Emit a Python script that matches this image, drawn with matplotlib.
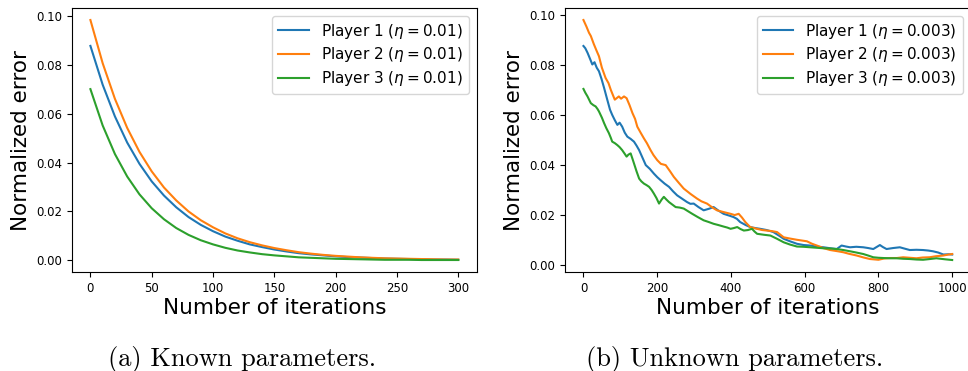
import matplotlib
matplotlib.use("Agg")
import matplotlib.pyplot as plt

# (a) known parameters, values read every 10 iterations
iters_a = list(range(0, 301, 10))
p1_known = [0.0878, 0.0719, 0.0589, 0.0482, 0.0395, 0.0323, 0.0265, 0.0217, 0.0177, 0.0145,
            0.0119, 0.0097, 0.0080, 0.0065, 0.0054, 0.0044, 0.0036, 0.0029, 0.0024, 0.0020,
            0.0016, 0.0013, 0.0011, 0.0009, 0.0007, 0.0006, 0.0005, 0.0004, 0.0003, 0.0003, 0.0002]
p2_known = [0.0984, 0.0807, 0.0661, 0.0542, 0.0444, 0.0364, 0.0298, 0.0245, 0.0200, 0.0164,
            0.0135, 0.0110, 0.0090, 0.0074, 0.0061, 0.0050, 0.0041, 0.0033, 0.0027, 0.0022,
            0.0018, 0.0015, 0.0012, 0.0010, 0.0008, 0.0007, 0.0006, 0.0005, 0.0004, 0.0003, 0.0003]
p3_known = [0.0701, 0.0552, 0.0435, 0.0343, 0.0270, 0.0213, 0.0168, 0.0132, 0.0104, 0.0082,
            0.0065, 0.0051, 0.0040, 0.0032, 0.0025, 0.0020, 0.0016, 0.0012, 0.0010, 0.0008,
            0.0006, 0.0005, 0.0004, 0.0003, 0.0002, 0.0002, 0.0002, 0.0001, 0.0001, 0.0001, 0.0001]

# (b) unknown parameters
p1_x = [0, 5, 11, 18, 24, 30, 36, 42, 49, 56, 64, 72, 78, 85, 92, 98, 105, 112, 119, 128,
        137, 144, 151, 160, 169, 180, 191, 200, 209, 220, 232, 243, 254, 268, 281, 290, 299,
        312, 326, 340, 353, 366, 380, 395, 407, 416, 425, 440, 452, 466, 479, 497, 515, 530,
        543, 560, 579, 597, 615, 633, 651, 670, 687, 700, 712, 723, 740, 759, 772, 786, 795,
        804, 812, 822, 840, 858, 870, 885, 903, 921, 935, 948, 962, 976, 990, 1000]
p1_y = [0.0877, 0.0868, 0.0850, 0.0825, 0.0803, 0.0812, 0.0790, 0.0776, 0.0745, 0.0709,
        0.0665, 0.0622, 0.0601, 0.0580, 0.0561, 0.0570, 0.0554, 0.0530, 0.0514, 0.0505,
        0.0494, 0.0478, 0.0460, 0.0430, 0.0400, 0.0385, 0.0366, 0.0352, 0.0340, 0.0326,
        0.0313, 0.0295, 0.0279, 0.0265, 0.0252, 0.0245, 0.0246, 0.0232, 0.0219, 0.0225,
        0.0232, 0.0218, 0.0205, 0.0198, 0.0192, 0.0185, 0.0172, 0.0160, 0.0152, 0.0148,
        0.0145, 0.0140, 0.0132, 0.0118, 0.0105, 0.0095, 0.0085, 0.0080, 0.0078, 0.0074,
        0.0071, 0.0067, 0.0064, 0.0078, 0.0074, 0.0071, 0.0073, 0.0071, 0.0068, 0.0064,
        0.0072, 0.0080, 0.0072, 0.0064, 0.0068, 0.0071, 0.0066, 0.0060, 0.0061, 0.0060,
        0.0058, 0.0055, 0.0050, 0.0042, 0.0043, 0.0042]

p2_x = [0, 8, 15, 20, 28, 35, 42, 50, 60, 68, 74, 80, 85, 90, 96, 102, 110, 117, 125, 133,
        140, 146, 155, 164, 172, 182, 190, 200, 210, 223, 235, 245, 258, 272, 290, 308, 320,
        335, 350, 362, 380, 399, 410, 421, 430, 439, 452, 470, 485, 497, 510, 525, 543, 560,
        579, 606, 620, 633, 650, 669, 690, 705, 720, 741, 760, 777, 800, 815, 831, 850, 867,
        885, 903, 920, 939, 955, 976, 990, 1000]
p2_y = [0.0981, 0.0955, 0.0930, 0.0917, 0.0885, 0.0860, 0.0836, 0.0790, 0.0749, 0.0728,
        0.0702, 0.0680, 0.0662, 0.0668, 0.0675, 0.0666, 0.0675, 0.0668, 0.0640, 0.0608,
        0.0585, 0.0554, 0.0530, 0.0507, 0.0488, 0.0460, 0.0440, 0.0420, 0.0405, 0.0400,
        0.0375, 0.0353, 0.0330, 0.0306, 0.0285, 0.0266, 0.0255, 0.0246, 0.0230, 0.0219,
        0.0212, 0.0205, 0.0200, 0.0205, 0.0190, 0.0172, 0.0152, 0.0145, 0.0140, 0.0138,
        0.0136, 0.0132, 0.0111, 0.0106, 0.0101, 0.0095, 0.0085, 0.0078, 0.0068, 0.0060,
        0.0055, 0.0051, 0.0045, 0.0038, 0.0030, 0.0024, 0.0021, 0.0026, 0.0028, 0.0028,
        0.0031, 0.0029, 0.0027, 0.0030, 0.0031, 0.0035, 0.0038, 0.0042, 0.0044]

p3_x = [0, 5, 11, 16, 20, 27, 33, 38, 42, 50, 56, 62, 69, 74, 78, 85, 92, 98, 105, 112,
        117, 122, 128, 133, 137, 144, 151, 157, 164, 171, 178, 185, 191, 198, 205, 212, 218,
        225, 232, 241, 250, 261, 272, 284, 295, 310, 326, 340, 353, 366, 380, 390, 399, 408,
        417, 426, 435, 446, 457, 464, 471, 490, 507, 525, 543, 560, 579, 597, 615, 633, 651,
        670, 687, 705, 723, 740, 759, 772, 786, 800, 813, 831, 849, 867, 885, 903, 921, 940,
        957, 980, 1000]
p3_y = [0.0705, 0.0690, 0.0675, 0.0660, 0.0648, 0.0640, 0.0635, 0.0625, 0.0615, 0.0590,
        0.0568, 0.0548, 0.0528, 0.0510, 0.0494, 0.0488, 0.0480, 0.0472, 0.0460, 0.0445,
        0.0434, 0.0442, 0.0447, 0.0425, 0.0407, 0.0375, 0.0346, 0.0335, 0.0326, 0.0320,
        0.0313, 0.0300, 0.0286, 0.0268, 0.0246, 0.0262, 0.0273, 0.0262, 0.0252, 0.0242,
        0.0232, 0.0230, 0.0226, 0.0215, 0.0205, 0.0192, 0.0179, 0.0172, 0.0165, 0.0160,
        0.0154, 0.0150, 0.0145, 0.0148, 0.0152, 0.0144, 0.0138, 0.0140, 0.0145, 0.0134,
        0.0125, 0.0121, 0.0118, 0.0105, 0.0091, 0.0082, 0.0074, 0.0073, 0.0071, 0.0069,
        0.0067, 0.0066, 0.0064, 0.0060, 0.0055, 0.0050, 0.0044, 0.0038, 0.0031, 0.0029,
        0.0028, 0.0027, 0.0027, 0.0025, 0.0024, 0.0022, 0.0021, 0.0024, 0.0027, 0.0023, 0.0020]

names = ["Player 1", "Player 2", "Player 3"]
eta_known = "0.01"
eta_unknown = "0.003"

fig = plt.figure(figsize=(9.68, 3.71), dpi=100)
ax1 = fig.add_axes([0.0744, 0.2668, 0.418, 0.7116])
ax2 = fig.add_axes([0.5837, 0.2668, 0.419, 0.7116])

for y, name in zip([p1_known, p2_known, p3_known], names):
    ax1.plot(iters_a, y, label=name + r" ($\eta=" + eta_known + "$)")
for x, y, name in zip([p1_x, p2_x, p3_x], [p1_y, p2_y, p3_y], names):
    ax2.plot(x, y, label=name + r" ($\eta=" + eta_unknown + "$)")

ax1.set_xticks([0, 50, 100, 150, 200, 250, 300])
ax2.set_xticks([0, 200, 400, 600, 800, 1000])
for ax in (ax1, ax2):
    ax.set_yticks([0.0, 0.02, 0.04, 0.06, 0.08, 0.10])
    ax.tick_params(labelsize=8.5)
    ax.set_xlabel("Number of iterations", fontsize=15.5, labelpad=2)
    ax.set_ylabel("Normalized error", fontsize=15.5)
    ax.legend(loc="upper right", fontsize=11, labelspacing=0.3)

fig.text(0.2505, 0.014, "(a) Known parameters.", family="cmr10", fontsize=19, ha="center")
fig.text(0.7593, 0.014, "(b) Unknown parameters.", family="cmr10", fontsize=19, ha="center")

fig.savefig("out.png", dpi=100)
